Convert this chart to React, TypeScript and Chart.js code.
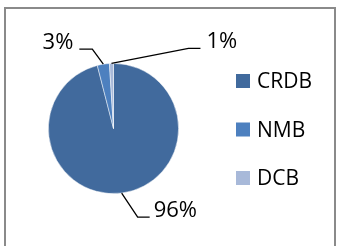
import React, { useEffect, useRef } from "react";
import { Chart, registerables } from "chart.js";

Chart.register(...registerables);

const categories = ["CRDB", "NMB", "DCB"];
const shares = [96, 3, 1];
const labelTexts = ["96%", "3%", "1%"];
const colors = ["#416A9D", "#4D80BF", "#A8B9D9"];

// leader line style: elbow offset from slice edge, horizontal run, text gap
const leaderStyle = [
  { dx: 16, dy: 24, run: 12, gap: 4 },
  { dx: -11, dy: -15, run: -13, gap: 6 },
  { dx: 77, dy: -15, run: 12, gap: 6 },
];

const FONT = "'Open Sans', 'Liberation Sans', sans-serif";

const labelPlugin = {
  id: "leaderLabels",
  afterDatasetsDraw(chart: any) {
    const ctx = chart.ctx;
    const meta = chart.getDatasetMeta(0);
    ctx.save();
    meta.data.forEach((arc: any, i: number) => {
      const p = arc.getProps(["x", "y", "startAngle", "endAngle", "outerRadius"], true);
      const mid = (p.startAngle + p.endAngle) / 2;
      const ex = p.x + Math.cos(mid) * p.outerRadius;
      const ey = p.y + Math.sin(mid) * p.outerRadius;
      const s = leaderStyle[i];
      const bx = ex + s.dx;
      const by = ey + s.dy;
      const hx = bx + s.run;
      ctx.strokeStyle = "#000";
      ctx.lineWidth = 1.3;
      ctx.beginPath();
      ctx.moveTo(ex, ey);
      ctx.lineTo(bx, by);
      ctx.lineTo(hx, by);
      ctx.stroke();
      ctx.fillStyle = "#000";
      ctx.font = `22px ${FONT}`;
      ctx.textBaseline = "alphabetic";
      if (s.run < 0) {
        ctx.textAlign = "right";
        ctx.fillText(labelTexts[i], hx - s.gap, by);
      } else {
        ctx.textAlign = "left";
        ctx.fillText(labelTexts[i], hx + s.gap, by);
      }
    });
    ctx.restore();
  },
};

const legendPlugin = {
  id: "sideLegend",
  afterDraw(chart: any) {
    const ctx = chart.ctx;
    const x0 = 236;
    const baseline0 = 88;
    const step = 48.5;
    const box = 14;
    ctx.save();
    ctx.font = `21px ${FONT}`;
    ctx.textBaseline = "alphabetic";
    ctx.textAlign = "left";
    chart.data.labels.forEach((lab: string, i: number) => {
      const bl = baseline0 + i * step;
      ctx.fillStyle = chart.data.datasets[0].backgroundColor[i];
      ctx.fillRect(x0, bl - box, box, box);
      ctx.fillStyle = "#000";
      ctx.fillText(lab, 257, bl);
    });
    ctx.restore();
  },
};

export default function App() {
  const ref = useRef<HTMLCanvasElement>(null);
  useEffect(() => {
    if (!ref.current) return;
    const chart = new Chart(ref.current, {
      type: "pie",
      data: {
        labels: categories,
        datasets: [
          {
            data: shares,
            backgroundColor: colors,
            borderColor: "rgba(255,255,255,0.6)",
            borderWidth: 0.8,
          },
        ],
      },
      options: {
        responsive: false,
        animation: false,
        layout: { padding: { left: 48, top: 63, right: 159, bottom: 52 } },
        plugins: {
          legend: { display: false },
          tooltip: { enabled: false },
        },
      },
      plugins: [labelPlugin, legendPlugin],
    });
    return () => chart.destroy();
  }, []);
  return (
    <div
      style={{
        position: "fixed",
        left: 0,
        top: 0,
        width: 338,
        height: 246,
        overflow: "hidden",
        background: "#fff",
      }}
    >
      <div
        style={{
          position: "absolute",
          left: 4,
          top: 7,
          width: 328,
          height: 300,
          border: "2px solid #8a8a8a",
        }}
      />
      <canvas
        ref={ref}
        width={338}
        height={246}
        style={{ position: "absolute", left: 0, top: 0, width: 338, height: 246 }}
      />
    </div>
  );
}
